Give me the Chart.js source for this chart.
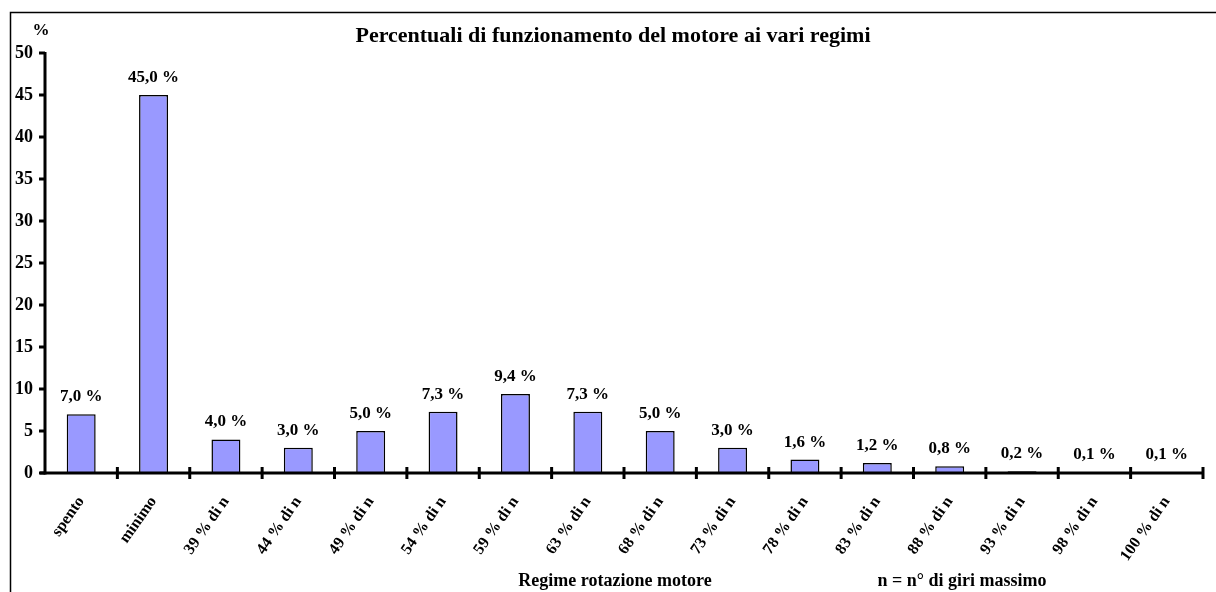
<!DOCTYPE html>
<html><head><meta charset="utf-8">
<script src="https://cdn.jsdelivr.net/npm/chart.js@4"></script>
<style>html,body{margin:0;padding:0;background:#fff}#wrap{width:1216px;height:592px;position:relative}</style>
</head><body><div id="wrap"><canvas id="c" width="1216" height="592"></canvas></div>
<script>
const categories = ["spento","minimo","39 % di n","44 % di n","49 % di n","54 % di n","59 % di n","63 % di n","68 % di n","73 % di n","78 % di n","83 % di n","88 % di n","93 % di n","98 % di n","100 % di n"];
const values = [7.0,45.0,4.0,3.0,5.0,7.3,9.4,7.3,5.0,3.0,1.6,1.2,0.8,0.2,0.1,0.1];
const valueLabels = ["7,0 %","45,0 %","4,0 %","3,0 %","5,0 %","7,3 %","9,4 %","7,3 %","5,0 %","3,0 %","1,6 %","1,2 %","0,8 %","0,2 %","0,1 %","0,1 %"];
const yTicks = [0,5,10,15,20,25,30,35,40,45,50];
const titleText = "Percentuali di funzionamento del motore ai vari regimi";
const xTitle = "Regime rotazione motore";
const noteText = "n = n° di giri massimo";
const yUnit = "%";

const FONT = "'Liberation Serif','Times New Roman',serif";

const customDraw = {
  id:'customDraw',
  afterDatasetsDraw(chart){
    const ctx = chart.ctx, x = chart.scales.x, y = chart.scales.y;
    const ca = chart.chartArea;
    ctx.save();
    // frame
    ctx.strokeStyle = '#000'; ctx.lineWidth = 1.5;
    ctx.beginPath(); ctx.moveTo(10.5, 600); ctx.lineTo(10.5, 12.5); ctx.lineTo(1220, 12.5); ctx.stroke();
    // axes
    ctx.lineWidth = 3;
    const y0 = y.getPixelForValue(0);
    ctx.beginPath(); ctx.moveTo(ca.left, y.getPixelForValue(50)-1); ctx.lineTo(ca.left, y0+1.5); ctx.stroke();
    ctx.beginPath(); ctx.moveTo(ca.left-5, y0); ctx.lineTo(ca.right, y0); ctx.stroke();
    // y ticks
    yTicks.forEach(v=>{
      const py = y.getPixelForValue(v);
      ctx.beginPath(); ctx.moveTo(ca.left-6, py); ctx.lineTo(ca.left, py); ctx.stroke();
    });
    // x ticks at category boundaries
    const step = (ca.right - ca.left) / categories.length;
    for (let i=1;i<=categories.length;i++){
      const px = ca.left + step*i;
      ctx.beginPath(); ctx.moveTo(px, y0-6); ctx.lineTo(px, y0+6); ctx.stroke();
    }
    // value labels
    ctx.fillStyle = '#000';
    ctx.font = 'bold 17px ' + FONT;
    ctx.textAlign = 'center'; ctx.textBaseline = 'alphabetic';
    const meta = chart.getDatasetMeta(0);
    meta.data.forEach((bar,i)=>{
      ctx.fillText(valueLabels[i], bar.x, bar.y - 13);
    });
    // title
    ctx.font = 'bold 22px ' + FONT;
    ctx.fillText(titleText, 613, 42);
    // unit
    ctx.font = 'bold 17px ' + FONT;
    ctx.fillText(yUnit, 41, 35);
    // x title and note
    ctx.font = 'bold 18px ' + FONT;
    ctx.fillText(xTitle, 615, 586);
    ctx.fillText(noteText, 962, 586);
    ctx.restore();
  }
};

new Chart(document.getElementById('c'), {
  type:'bar',
  data:{ labels:categories, datasets:[{ data:values, backgroundColor:'#9999ff', borderColor:'#000', borderWidth:1.5, categoryPercentage:1, barPercentage:0.4 }]},
  options:{
    responsive:false, animation:false,
    layout:{ padding:{ left:0, top:53, right:13, bottom:0 } },
    plugins:{ legend:{display:false}, tooltip:{enabled:false}, title:{display:false} },
    scales:{
      x:{
        grid:{ display:false }, border:{ display:false },
        ticks:{ color:'#000', font:{ family:FONT, size:16, weight:'bold' }, maxRotation:55, minRotation:55, padding:12, autoSkip:false },
        afterFit(s){ s.height = 592 - 53 - 420; }
      },
      y:{
        min:0, max:50,
        grid:{ display:false }, border:{ display:false },
        afterBuildTicks(s){ s.ticks = yTicks.map(v=>({value:v})); },
        ticks:{ color:'#000', font:{ family:FONT, size:18, weight:'bold' }, padding:4 },
        afterFit(s){ s.width = 45; }
      }
    }
  },
  plugins:[customDraw]
});
</script>
</body></html>
